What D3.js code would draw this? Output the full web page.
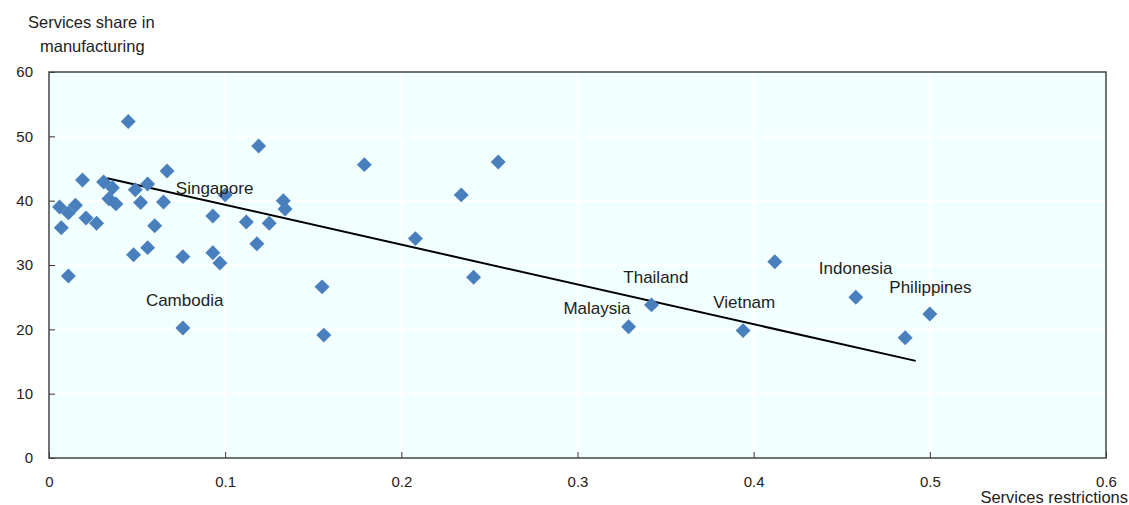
<!DOCTYPE html>
<html lang="en">
<head>
<meta charset="utf-8">
<script src="https://d3js.org/d3.v7.min.js"></script>
<style>
  body { margin: 0; background: #fff; }
  text { font-family: "Liberation Sans", Arial, sans-serif; fill: #222; }
</style>
</head>
<body>
<div id="chart"></div>
<script>
  // services restrictions (x) vs services share in manufacturing (y)
  var restrictions = [0.006, 0.007, 0.011, 0.011, 0.015, 0.019, 0.021, 0.027, 0.031, 0.034,
                      0.036, 0.038, 0.045, 0.048, 0.049, 0.052, 0.056, 0.056, 0.060, 0.065,
                      0.067, 0.076, 0.076, 0.093, 0.093, 0.097, 0.100, 0.112, 0.118, 0.119,
                      0.125, 0.133, 0.134, 0.155, 0.156, 0.179, 0.208, 0.234, 0.241, 0.255,
                      0.329, 0.342, 0.394, 0.412, 0.458, 0.486, 0.500];
  var share = [39.0, 35.8, 28.3, 38.1, 39.3, 43.2, 37.3, 36.5, 42.9, 40.3,
               42.0, 39.5, 52.3, 31.6, 41.7, 39.7, 42.6, 32.7, 36.1, 39.8,
               44.6, 31.3, 20.2, 37.6, 31.9, 30.3, 40.9, 36.7, 33.3, 48.5,
               36.5, 40.0, 38.7, 26.6, 19.1, 45.6, 34.1, 40.9, 28.1, 46.0,
               20.4, 23.8, 19.8, 30.5, 25.0, 18.7, 22.4];

  var labelNames = ["Singapore", "Cambodia", "Thailand", "Malaysia", "Vietnam", "Indonesia", "Philippines"];
  var labelX = [0.072, 0.055, 0.326, 0.292, 0.377, 0.437, 0.477];
  var labelY = [41.0, 23.6, 27.2, 22.4, 23.3, 28.6, 25.6];

  var trendX = [0.033, 0.492];
  var trendY = [43.5, 15.1];

  var xTicks = [0, 0.1, 0.2, 0.3, 0.4, 0.5, 0.6];
  var yTicks = [0, 10, 20, 30, 40, 50, 60];

  var W = 1129, H = 505;
  var margin = {top: 72, right: 23, bottom: 47, left: 49};
  var width = W - margin.left - margin.right;
  var height = H - margin.top - margin.bottom;

  var svg = d3.select("#chart").append("svg")
      .attr("width", W)
      .attr("height", H);

  var g = svg.append("g")
      .attr("transform", "translate(" + margin.left + "," + margin.top + ")");

  var x = d3.scaleLinear().domain([0, 0.6]).range([0, width]);
  var y = d3.scaleLinear().domain([0, 60]).range([height, 0]);

  g.append("rect")
      .attr("width", width)
      .attr("height", height)
      .attr("fill", "#f2ffff");

  // faint white grid
  g.selectAll(".vgrid").data(xTicks.slice(1, -1)).enter().append("line")
      .attr("x1", function(d) { return x(d); })
      .attr("x2", function(d) { return x(d); })
      .attr("y1", 0).attr("y2", height)
      .attr("stroke", "#fff").attr("stroke-width", 1.5);
  g.selectAll(".hgrid").data(yTicks.slice(1, -1)).enter().append("line")
      .attr("y1", function(d) { return y(d); })
      .attr("y2", function(d) { return y(d); })
      .attr("x1", 0).attr("x2", width)
      .attr("stroke", "#fff").attr("stroke-width", 1.5);

  var xAxis = g.append("g")
      .attr("transform", "translate(0," + height + ")")
      .call(d3.axisBottom(x).tickValues(xTicks).tickSize(-6).tickPadding(18)
        .tickFormat(function(d) { return d === 0 ? "0" : d3.format(".1f")(d); }));
  var yAxis = g.append("g")
      .call(d3.axisLeft(y).tickValues(yTicks).tickSize(-6).tickPadding(16));

  [xAxis, yAxis].forEach(function(a) {
    a.select(".domain").remove();
    a.selectAll("line").attr("stroke", "#333");
    a.selectAll("text").attr("font-size", 15).attr("fill", "#222")
      .attr("font-family", "'Liberation Sans', Arial, sans-serif");
  });

  // frame
  g.append("rect")
      .attr("width", width)
      .attr("height", height)
      .attr("fill", "none")
      .attr("stroke", "#444")
      .attr("stroke-width", 1.5);

  g.append("line")
      .attr("x1", x(trendX[0])).attr("y1", y(trendY[0]))
      .attr("x2", x(trendX[1])).attr("y2", y(trendY[1]))
      .attr("stroke", "#000").attr("stroke-width", 2);

  var diamond = d3.symbol().type(d3.symbolSquare).size(112);
  g.selectAll(".pt").data(restrictions).enter().append("path")
      .attr("d", diamond)
      .attr("transform", function(d, i) {
        return "translate(" + x(d) + "," + y(share[i]) + ") rotate(45)";
      })
      .attr("fill", "#4a7fbe");

  g.selectAll(".lbl").data(labelNames).enter().append("text")
      .attr("x", function(d, i) { return x(labelX[i]); })
      .attr("y", function(d, i) { return y(labelY[i]); })
      .attr("font-size", 17)
      .text(function(d) { return d; });

  svg.append("text").attr("x", 28).attr("y", 28).attr("font-size", 16.5)
      .text("Services share in");
  svg.append("text").attr("x", 40).attr("y", 52).attr("font-size", 16.5)
      .text("manufacturing");
  svg.append("text").attr("x", W - 1).attr("y", 503).attr("font-size", 16.5)
      .attr("text-anchor", "end")
      .text("Services restrictions");
</script>
</body>
</html>
